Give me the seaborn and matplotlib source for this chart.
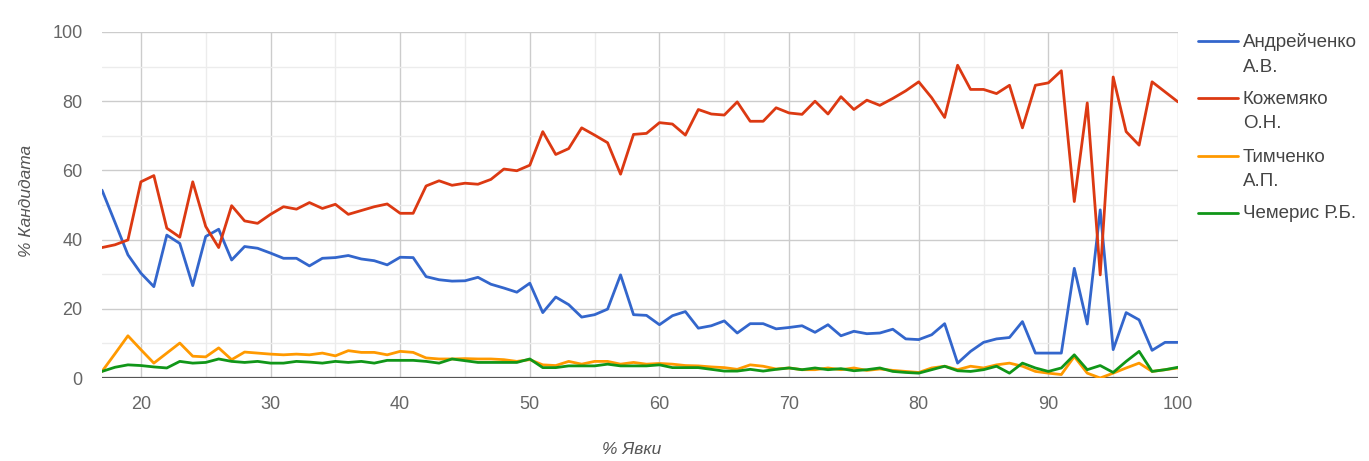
import numpy as np
import pandas as pd
import matplotlib
matplotlib.use("Agg")
import matplotlib.pyplot as plt
from matplotlib.lines import Line2D
import seaborn as sns

turnout = list(range(17, 101))

andreychenko = [54.3, 45.0, 35.6, 30.3, 26.4, 41.3, 38.9, 26.7, 40.9, 43.0,
                34.1, 38.0, 37.5, 36.1, 34.6, 34.6, 32.4, 34.6, 34.8, 35.4,
                34.4, 33.9, 32.7, 34.9, 34.8, 29.3, 28.4, 28.0, 28.1, 29.1,
                27.1, 26.0, 24.8, 27.4, 18.9, 23.4, 21.2, 17.6, 18.3, 19.9,
                29.8, 18.3, 18.1, 15.4, 18.0, 19.2, 14.4, 15.1, 16.5, 13.0,
                15.7, 15.7, 14.2, 14.6, 15.1, 13.2, 15.4, 12.2, 13.5, 12.8,
                13.0, 14.1, 11.3, 11.1, 12.5, 15.7, 4.3, 7.7, 10.3, 11.3,
                11.7, 16.3, 7.2, 7.2, 7.2, 31.7, 15.6, 48.6, 8.2, 18.9,
                16.8, 8.0, 10.3, 10.3]

kozhemyako = [37.7, 38.5, 39.9, 56.7, 58.5, 43.3, 40.7, 56.7, 43.8, 37.7,
              49.8, 45.4, 44.7, 47.3, 49.5, 48.8, 50.7, 49.0, 50.2, 47.3,
              48.4, 49.5, 50.3, 47.6, 47.6, 55.5, 57.0, 55.7, 56.3, 56.0,
              57.4, 60.4, 59.9, 61.5, 71.2, 64.6, 66.3, 72.3, 70.2, 68.0,
              58.9, 70.4, 70.7, 73.8, 73.4, 70.2, 77.6, 76.3, 76.0, 79.8,
              74.2, 74.2, 78.1, 76.6, 76.2, 80.0, 76.3, 81.3, 77.6, 80.3,
              78.8, 80.8, 83.0, 85.6, 81.0, 75.3, 90.4, 83.4, 83.4, 82.2,
              84.6, 72.3, 84.6, 85.3, 88.8, 51.0, 79.5, 29.8, 87.0, 71.2,
              67.3, 85.6, 82.7, 79.8]

timchenko = [1.9, 7.0, 12.2, 8.2, 4.3, 7.2, 10.1, 6.3, 6.1, 8.7,
             5.3, 7.5, 7.2, 6.9, 6.7, 6.9, 6.7, 7.2, 6.4, 7.9,
             7.4, 7.4, 6.7, 7.7, 7.4, 5.8, 5.5, 5.5, 5.6, 5.5,
             5.5, 5.3, 4.8, 5.3, 3.8, 3.6, 4.8, 4.0, 4.8, 4.8,
             4.0, 4.5, 4.0, 4.2, 4.0, 3.6, 3.5, 3.2, 3.0, 2.5,
             3.8, 3.4, 2.6, 2.9, 2.4, 2.4, 2.9, 2.4, 2.9, 2.2,
             2.6, 2.2, 1.9, 1.6, 2.9, 3.4, 2.4, 3.4, 2.9, 3.8,
             4.3, 3.4, 1.9, 1.4, 1.0, 6.2, 1.4, 0.0, 1.4, 2.9,
             4.3, 1.9, 2.4, 2.9]

chemeris = [1.9, 3.1, 3.8, 3.6, 3.2, 2.9, 4.8, 4.3, 4.5, 5.5,
            4.8, 4.5, 4.8, 4.3, 4.3, 4.8, 4.6, 4.3, 4.8, 4.5,
            4.8, 4.3, 5.1, 5.1, 5.1, 4.8, 4.3, 5.5, 5.0, 4.5,
            4.5, 4.5, 4.5, 5.5, 3.0, 3.0, 3.5, 3.5, 3.5, 4.0,
            3.5, 3.5, 3.5, 3.8, 3.0, 3.0, 3.0, 2.5, 2.0, 2.0,
            2.5, 2.0, 2.5, 2.9, 2.4, 2.9, 2.4, 2.7, 2.1, 2.4,
            2.9, 1.9, 1.6, 1.4, 2.4, 3.4, 2.1, 1.9, 2.4, 3.4,
            1.4, 4.3, 2.9, 1.9, 2.9, 6.7, 2.4, 3.6, 1.6, 4.8,
            7.7, 1.9, 2.4, 3.1]

candidates = ["Андрейченко А.В.", "Кожемяко О.Н.", "Тимченко А.П.", "Чемерис Р.Б."]
legend_lines = [["Андрейченко", "А.В."], ["Кожемяко", "О.Н."], ["Тимченко", "А.П."], ["Чемерис Р.Б."]]
x_ticks = [20, 30, 40, 50, 60, 70, 80, 90, 100]
y_ticks = [0, 20, 40, 60, 80, 100]

colors = ["#3366cc", "#dc3912", "#ff9900", "#109618"]

frames = []
for name, vals in zip(candidates, [andreychenko, kozhemyako, timchenko, chemeris]):
    frames.append(pd.DataFrame({"turnout": turnout, "value": vals, "cand": name}))
df = pd.concat(frames, ignore_index=True)

sns.set_theme(style="white")
plt.rcParams['font.family'] = ['Liberation Sans', 'DejaVu Sans']

fig = plt.figure(figsize=(13.69, 4.61), dpi=100)
ax = fig.add_axes([102 / 1369, 1 - 378 / 461, (1178 - 102) / 1369, (378 - 32) / 461])

sns.lineplot(data=df, x="turnout", y="value", hue="cand", hue_order=candidates,
             palette=colors, linewidth=2.0, legend=False, ax=ax, zorder=3)

ax.set_xlim(17, 100)
ax.set_ylim(0, 100)
ax.set_xticks(x_ticks)
ax.set_yticks(y_ticks)
ax.set_xticks(list(range(25, 100, 10)), minor=True)
ax.set_yticks([10, 30, 50, 70, 90], minor=True)
ax.grid(True, which="major", color="#cccccc", linewidth=1.0, zorder=0)
ax.grid(True, which="minor", color="#ececec", linewidth=1.0, zorder=0)
ax.set_axisbelow(True)
for s in ax.spines.values():
    s.set_visible(False)
ax.axhline(0, color="#555555", linewidth=1.6, zorder=2)
ax.tick_params(axis="both", which="both", length=0, labelsize=13, labelcolor="#666666")
ax.tick_params(axis="x", pad=13)
ax.tick_params(axis="y", pad=14)

ax.set_xlabel("% Явки", fontsize=12.5, style="italic", color="#555555")
ax.set_ylabel("% Кандидата", fontsize=12.5, style="italic", color="#555555")
ax.xaxis.set_label_coords((632 - 102) / (1178 - 102), -(449 - 378) / (378 - 32))
ax.yaxis.set_label_coords(-(102 - 27) / (1178 - 102), (378 - 201) / (378 - 32))
ax.xaxis.label.set_va("center")
ax.yaxis.label.set_va("center")

# legend drawn on the right
entry_y = [41, 98, 156, 213]
for lines, col, yy in zip(legend_lines, colors, entry_y):
    fy = 1 - yy / 461
    fig.add_artist(Line2D([1198 / 1369, 1238 / 1369], [fy, fy], color=col, linewidth=2.0))
    for k, t in enumerate(lines):
        fig.text(1243 / 1369, 1 - (yy + 1 + 25 * k) / 461, t, fontsize=13.5, color="#444444",
                 va="center", ha="left")

fig.savefig("out.png", dpi=100, facecolor="white")
